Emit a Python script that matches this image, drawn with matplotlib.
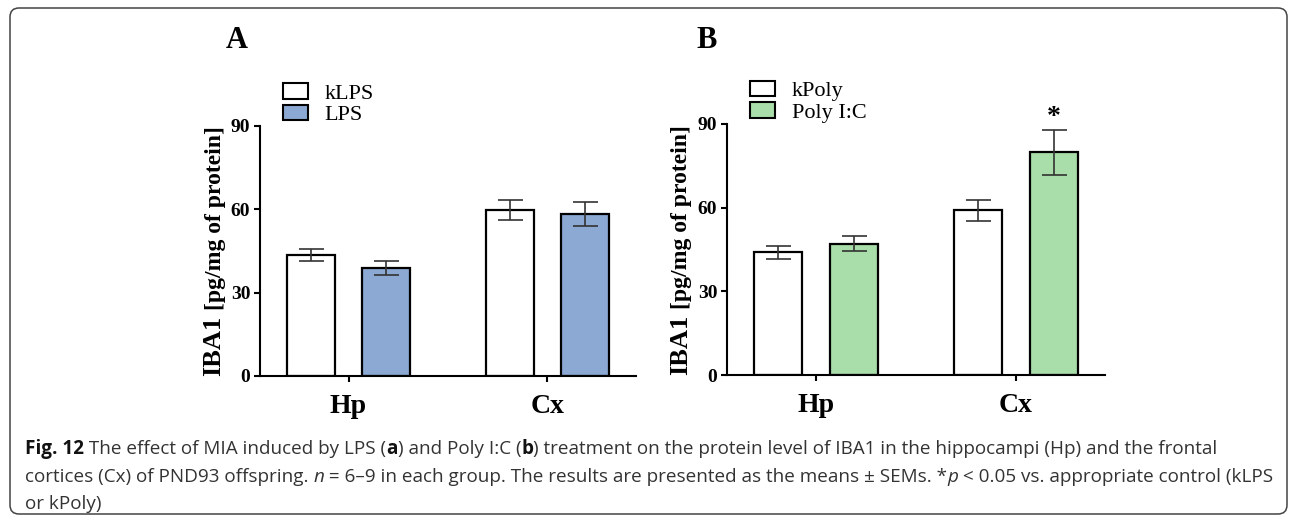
import matplotlib
matplotlib.use("Agg")
import matplotlib.pyplot as plt
import numpy as np
from matplotlib.patches import FancyBboxPatch, Patch

# values (mean and SEM)
regions = ["Hp", "Cx"]
klps = [43.5, 59.8]
klps_sem = [2.2, 3.6]
lps = [38.9, 58.3]
lps_sem = [2.5, 4.2]
kpoly = [44.0, 59.0]
kpoly_sem = [2.3, 3.7]
poly = [47.0, 79.8]
poly_sem = [2.7, 8.2]
yticks = [0, 30, 60, 90]

W, H = 1290, 517
serif = "Liberation Serif"
fig = plt.figure(figsize=(W / 100, H / 100), dpi=100)


def panel(rect, ctrl, ctrl_sem, trt, trt_sem, names, color, letter, letter_x, star=None):
    ax = fig.add_axes(rect)
    x = np.arange(len(regions))
    off, bw = 0.19, 0.24
    ax.bar(x - off, ctrl, bw, color="white", edgecolor="black", linewidth=1.6, zorder=2)
    ax.bar(x + off, trt, bw, color=color, edgecolor="black", linewidth=1.6, zorder=2)
    ax.errorbar(x - off, ctrl, yerr=ctrl_sem, fmt="none", ecolor="#333333",
                elinewidth=1.2, capsize=9, capthick=1.2, zorder=3)
    ax.errorbar(x + off, trt, yerr=trt_sem, fmt="none", ecolor="#333333",
                elinewidth=1.2, capsize=9, capthick=1.2, zorder=3)
    ax.set_xlim(-0.445, 1.445)
    ax.set_ylim(0, 90)
    ax.set_yticks(yticks)
    ax.set_xticks(x)
    ax.set_xticklabels(regions, fontfamily=serif, fontweight="bold", fontsize=20)
    for lab in ax.get_yticklabels():
        lab.set_fontfamily(serif)
        lab.set_fontweight("bold")
        lab.set_fontsize(14)
    for s in ["top", "right"]:
        ax.spines[s].set_visible(False)
    for s in ["left", "bottom"]:
        ax.spines[s].set_linewidth(1.5)
    ax.tick_params(axis="both", length=4, width=1.5, pad=3)
    ax.tick_params(axis="x", pad=9)

    # y label: bigger "IBA1" followed by the unit
    t1 = ax.text(-0.105, 0.0, "IBA1", transform=ax.transAxes, rotation=90,
                 rotation_mode="anchor", ha="left", va="baseline",
                 fontfamily=serif, fontweight="bold", fontsize=19)
    ax.annotate("[pg/mg of protein]", xy=(-0.105, 1.0), xycoords=(ax.transAxes, t1),
                xytext=(0, 4), textcoords="offset points", rotation=90,
                rotation_mode="anchor", ha="left", va="baseline",
                fontfamily=serif, fontweight="bold", fontsize=17)

    handles = [Patch(facecolor="white", edgecolor="black", linewidth=1.5),
               Patch(facecolor=color, edgecolor="black", linewidth=1.5)]
    ax.legend(handles, names, loc="upper left", bbox_to_anchor=(0.06, 1.172),
              frameon=False, borderpad=0, borderaxespad=0, handlelength=1.15,
              handleheight=0.7, handletextpad=0.75, labelspacing=0.05,
              prop={"family": serif, "size": 16})

    fig.text(letter_x / W, 1 - 48 / H, letter, fontfamily=serif,
             fontweight="bold", fontsize=22, ha="center", va="baseline")
    if star is not None:
        ax.annotate("*", xy=(x[star] + off, trt[star] + trt_sem[star]),
                    xytext=(0, 4), textcoords="offset points", ha="center",
                    va="baseline", fontfamily=serif, fontweight="bold", fontsize=20)
    return ax


panel([260 / W, 1 - 376 / H, 376 / W, 250 / H], klps, klps_sem, lps, lps_sem,
      ["kLPS", "LPS"], "#8ba9d2", "A", 237)
panel([727 / W, 1 - 375 / H, 378 / W, 251 / H], kpoly, kpoly_sem, poly, poly_sem,
      ["kPoly", "Poly I:C"], "#a9dda9", "B", 707, star=1)

# rounded frame
box = FancyBboxPatch((10 / W, 1 - 514 / H), 1277 / W, 506 / H,
                     boxstyle="round,pad=0,rounding_size=0.007",
                     mutation_aspect=W / H, transform=fig.transFigure,
                     facecolor="none", edgecolor="#444444", linewidth=1.1)
fig.add_artist(box)

# caption with mixed styles
cap_font = "Open Sans"
cap_size = 13.6
renderer = fig.canvas.get_renderer()


def run_width(s, weight, style):
    t = fig.text(0, 0, "|" + s + "|", fontfamily=cap_font, fontsize=cap_size,
                 fontweight=weight, fontstyle=style)
    w = t.get_window_extent(renderer).width
    t.remove()
    t = fig.text(0, 0, "||", fontfamily=cap_font, fontsize=cap_size,
                 fontweight=weight, fontstyle=style)
    w -= t.get_window_extent(renderer).width
    t.remove()
    return w


def draw_line(y_px, runs):
    x_px = 25
    for s, weight, style in runs:
        col = "#111111" if weight == "bold" else "#333333"
        fig.text(x_px / W, 1 - y_px / H, s, fontfamily=cap_font, fontsize=cap_size,
                 fontweight=weight, fontstyle=style, color=col, ha="left", va="baseline")
        x_px += run_width(s, weight, style)


N, B, I = "normal", "bold", "italic"
draw_line(454, [("Fig. 12", B, N),
                (" The effect of MIA induced by LPS (", N, N), ("a", B, N),
                (") and Poly I:C (", N, N), ("b", B, N),
                (") treatment on the protein level of IBA1 in the hippocampi (Hp) and the frontal", N, N)])
draw_line(482, [("cortices (Cx) of PND93 offspring. ", N, N), ("n", N, I),
                (" = 6\u20139 in each group. The results are presented as the means \u00b1 SEMs. *", N, N),
                ("p", N, I), (" < 0.05 vs. appropriate control (kLPS", N, N)])
draw_line(509, [("or kPoly)", N, N)])

fig.savefig("out.png", dpi=100)
